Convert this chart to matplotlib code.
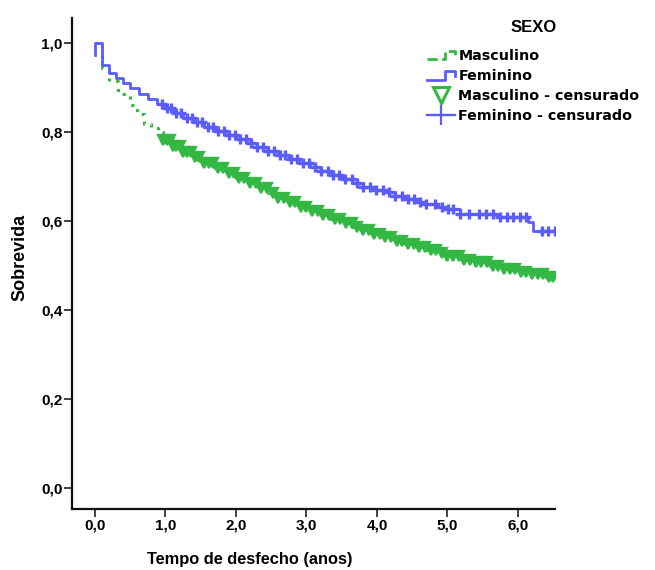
import numpy as np
import matplotlib
matplotlib.use("Agg")
import matplotlib.pyplot as plt
from matplotlib.lines import Line2D
from matplotlib.legend_handler import HandlerLine2D
from matplotlib.ticker import FuncFormatter
from matplotlib import font_manager

# ---------------- data ----------------
fem_t = [0, 0, 0.095, 0.2, 0.3, 0.4, 0.5, 0.62, 0.75, 0.88, 1.0, 1.12, 1.25, 1.4, 1.55, 1.7,
         1.85, 2.0, 2.15, 2.3, 2.45, 2.6, 2.75, 2.9, 3.05, 3.2, 3.35, 3.5, 3.65, 3.8, 3.95,
         4.1, 4.25, 4.4, 4.55, 4.7, 4.85, 5.0, 5.18, 5.7, 6.14, 6.22, 6.55]
fem_s = [0.973, 1.0, 0.951, 0.932, 0.921, 0.91, 0.898, 0.886, 0.874, 0.863, 0.853, 0.843,
         0.832, 0.822, 0.812, 0.802, 0.793, 0.784, 0.775, 0.766, 0.757, 0.748, 0.739, 0.73,
         0.721, 0.712, 0.703, 0.694, 0.685, 0.677, 0.67, 0.664, 0.657, 0.65, 0.643, 0.638,
         0.632, 0.626, 0.615, 0.609, 0.598, 0.578, 0.578]

masc_t = [0, 0.095, 0.2, 0.33, 0.5, 0.6, 0.7, 0.8, 0.9, 0.97, 1.1, 1.25, 1.4, 1.55, 1.7,
          1.85, 2.0, 2.15, 2.3, 2.45, 2.6, 2.75, 2.9, 3.05, 3.2, 3.35, 3.5, 3.65, 3.8, 3.95,
          4.1, 4.25, 4.4, 4.55, 4.7, 4.85, 5.0, 5.2, 5.4, 5.6, 5.8, 6.0, 6.2, 6.4, 6.55]
masc_s = [1.0, 0.944, 0.915, 0.885, 0.861, 0.84, 0.818, 0.808, 0.80, 0.782, 0.768, 0.755,
          0.743, 0.731, 0.72, 0.708, 0.696, 0.685, 0.674, 0.663, 0.652, 0.642, 0.632, 0.622,
          0.613, 0.604, 0.596, 0.587, 0.579, 0.571, 0.563, 0.556, 0.549, 0.542, 0.535, 0.528,
          0.521, 0.513, 0.507, 0.5, 0.492, 0.486, 0.48, 0.475, 0.472]

fem_cens = [0.95, 1.02, 1.08, 1.15, 1.22, 1.3, 1.38, 1.45, 1.52, 1.6, 1.68, 1.75, 1.83, 1.9,
            1.98, 2.06, 2.14, 2.22, 2.3, 2.38, 2.46, 2.54, 2.62, 2.7, 2.78, 2.86, 2.95, 3.04,
            3.12, 3.2, 3.3, 3.38, 3.46, 3.55, 3.64, 3.72, 3.8, 3.9, 3.98, 4.08, 4.17, 4.26,
            4.35, 4.44, 4.52, 4.61, 4.70, 4.82, 4.92, 5.01, 5.08, 5.18, 5.31, 5.44, 5.55,
            5.65, 5.74, 5.84, 5.93, 6.03, 6.12, 6.34, 6.43, 6.52]
masc_cens = [0.97, 1.02, 1.06, 1.1, 1.15, 1.2, 1.25, 1.3, 1.36, 1.42, 1.48, 1.55, 1.62, 1.68,
             1.75, 1.82, 1.9, 1.97, 2.04, 2.12, 2.2, 2.28, 2.36, 2.44, 2.52, 2.6, 2.68, 2.76,
             2.84, 2.92, 3.0, 3.08, 3.16, 3.24, 3.32, 3.4, 3.48, 3.56, 3.64, 3.72, 3.8, 3.88,
             3.96, 4.04, 4.12, 4.2, 4.28, 4.36, 4.44, 4.52, 4.6, 4.68, 4.76, 4.84, 4.92, 5.0,
             5.08, 5.16, 5.24, 5.32, 5.4, 5.48, 5.56, 5.64, 5.72, 5.8, 5.88, 5.96, 6.04, 6.12,
             6.2, 6.28, 6.36, 6.44, 6.5]

x_ticks = [0, 1, 2, 3, 4, 5, 6]
y_ticks = [0.0, 0.2, 0.4, 0.6, 0.8, 1.0]
labels = ["Masculino", "Feminino", "Masculino - censurado", "Feminino - censurado"]
legend_title = "SEXO"
xlabel = "Tempo de desfecho (anos)"
ylabel = "Sobrevida"

GREEN = "#33b843"
BLUE = "#5a5cff"

names = {f.name for f in font_manager.fontManager.ttflist}
NARROW = "Liberation Sans Narrow" if "Liberation Sans Narrow" in names else "Liberation Sans"
plt.rcParams["font.family"] = ["Liberation Sans", "DejaVu Sans"]


def step_value(ts, ss, t):
    i = np.searchsorted(np.asarray(ts), t, side="right") - 1
    return np.asarray(ss)[i]


fem_cens_s = [step_value(fem_t, fem_s, t) for t in fem_cens]
masc_cens_s = [step_value(masc_t, masc_s, t) for t in masc_cens]

fig = plt.figure(figsize=(6.55, 5.70), dpi=100)
W, H = 655, 570
ax = fig.add_axes([72 / W, 1 - 509 / H, (555 - 72) / W, (509 - 18) / H])

ax.plot(masc_t, masc_s, drawstyle="steps-post", color=GREEN, lw=2.2,
        linestyle=(0, (1, 2.2)), zorder=2)
ax.plot(fem_t, fem_s, drawstyle="steps-post", color=BLUE, lw=2.0, zorder=3)
ax.plot(masc_cens, masc_cens_s, linestyle="none", marker="v", ms=6.5, mfc=GREEN,
        mec=GREEN, mew=1.6, zorder=4)
ax.plot(fem_cens, fem_cens_s, linestyle="none", marker="+", ms=7.5, mec=BLUE,
        mew=2.4, zorder=5)

ax.set_xlim(-0.326, 6.525)
ax.set_ylim(-0.047, 1.056)
ax.set_xticks(x_ticks)
ax.set_yticks(y_ticks)
fmt = FuncFormatter(lambda v, p: f"{v:.1f}".replace(".", ","))
ax.xaxis.set_major_formatter(fmt)
ax.yaxis.set_major_formatter(fmt)
for lab in ax.get_xticklabels() + ax.get_yticklabels():
    lab.set_fontfamily([NARROW, "DejaVu Sans"])
    lab.set_fontweight("bold")
    lab.set_fontsize(11)
ax.tick_params(direction="out", length=5.5, width=1.2, color="#222222", pad=1.5)
for side in ["top", "right"]:
    ax.spines[side].set_visible(False)
for side in ["left", "bottom"]:
    ax.spines[side].set_linewidth(1.6)
    ax.spines[side].set_color("#111111")

ax.set_xlabel(xlabel, fontsize=11.8, fontweight="bold")
ax.set_ylabel(ylabel, fontsize=13, fontweight="bold")
ax.xaxis.set_label_coords((250 - 72) / 483, -0.088)
ax.yaxis.set_label_coords(-0.091, (509 - 257) / 491)


class StepHandler(HandlerLine2D):
    def create_artists(self, legend, orig_handle, xdescent, ydescent, width, height,
                       fontsize, trans):
        x0, y0 = -xdescent, -ydescent
        xs = [x0, x0 + 0.65 * width, x0 + 0.65 * width, x0 + width, x0 + width]
        ys = [y0 + 0.05 * height, y0 + 0.05 * height, y0 + 0.85 * height,
              y0 + 0.85 * height, y0 + 0.4 * height]
        ln = Line2D(xs, ys, color=orig_handle.get_color(), lw=orig_handle.get_linewidth(),
                    linestyle=orig_handle.get_linestyle())
        ln.set_transform(trans)
        return [ln]


h1 = Line2D([], [], color=GREEN, lw=2.0, linestyle=(0, (0.7, 3.2)))
h2 = Line2D([], [], color=BLUE, lw=2.0)
h3 = Line2D([], [], linestyle="none", marker="v", ms=11, mfc="none", mec=GREEN, mew=2.2)
h4 = Line2D([], [], color=BLUE, lw=1.6, marker="+", ms=14, mec=BLUE, mew=1.6)

leg = fig.legend([h1, h2, h3, h4], labels, loc="upper left",
                 bbox_to_anchor=(427 / W, 1 - 49 / H), frameon=False,
                 handlelength=1.95, handletextpad=0.25, labelspacing=0.42,
                 borderpad=0.0, borderaxespad=0.0,
                 prop={"family": "DejaVu Sans", "weight": "bold", "size": 10.3},
                 handler_map={h1: StepHandler(), h2: StepHandler()})

fig.text(534 / W, 1 - 27 / H, legend_title, ha="center", va="center",
         fontsize=12, fontweight="bold")

fig.savefig("out.png", dpi=100)
